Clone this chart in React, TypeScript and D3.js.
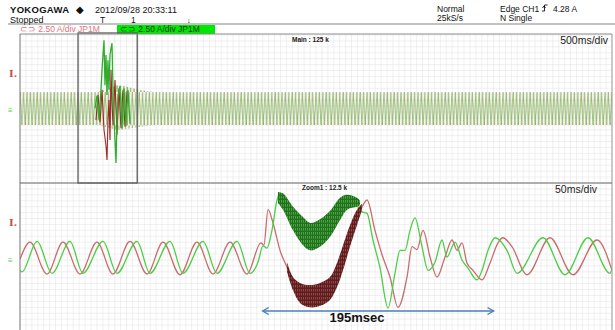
import React from 'react';
import * as d3 from 'd3';

// ---------- data (time in ms, current in A) ----------
const headerLeft = ['YOKOGAWA', '2012/09/28 20:33:11', 'Stopped'];
const headerRight = ['Normal', '25kS/s', 'Edge CH1', '4.28 A', 'N Single'];
const channelLabels = ['⊂⊃ 2.50 A/div JP1M', '⊂⊃ 2.50 A/div JP1M'];
const mainLabel = 'Main : 125 k';
const zoomLabel = 'Zoom1 : 12.5 k';
const mainScaleLabel = '500ms/div';
const zoomScaleLabel = '50ms/div';
const mainDomain = [0, 5000];
const zoomDomain = [0, 500];
const ampDomain = [-10, 10];
const zoomWindow = [490, 990];
const eventSpan = [205, 400];
const eventLabel = '195msec';

// main-window envelope of the dense oscillation [t, lo, hi]
const topEnvelope: [number, number, number][] = [
  [0, -2.2, 2.3], [650, -2.2, 2.3], [830, -2.8, 3.2], [980, -2.5, 2.7], [1150, -2.2, 2.3], [5000, -2.2, 2.3],
];
// burst in main window
const burstGreen: [number, number][] = [
  [633.5, 0.1], [650.3, 1.8], [667.2, -1.5], [684.1, 2.6], [692.6, 5.3], [709.5, 9.3], [717.9, 3.2],
  [726.4, 7.3], [734.8, 1.9], [743.2, 6.6], [751.7, 2.6], [760.1, 7.3], [768.6, 8.2], [777.0, 8.9],
  [785.5, 2.6], [793.9, -1.2], [810.8, -7.3], [819.3, -1.5], [827.7, 1.9], [844.6, 3.1], [861.5, -2.6],
  [878.4, 2.8], [895.3, -2.3], [912.2, 2.6], [929.1, -2.0],
];
const burstRed: [number, number][] = [
  [641.9, -1.5], [658.8, 1.9], [675.7, -1.8], [692.6, 2.6], [709.5, -2.8], [726.4, -5.0], [734.8, -6.9],
  [743.2, -1.5], [751.7, 1.2], [760.1, -4.2], [768.6, 5.3], [777.0, 1.0], [785.5, -2.2], [802.4, 3.9],
  [819.3, -3.5], [836.2, 2.8], [853.1, -2.6], [870.0, 2.6], [886.9, -2.4], [903.8, 2.4],
];

// zoom window traces
const redTrace: [number, number][] = [
  [0, -0.3], [8.4, 2.0], [22.8, -2.3], [36.3, 2.0], [50.7, -2.3], [65.0, 2.0], [78.5, -2.3], [92.9, 2.1],
  [107.3, -2.3], [120.8, 2.0], [135.1, -2.4], [149.5, 2.0], [163.0, -2.3], [177.4, 2.0], [191.7, -2.3],
  [203.5, 1.9], [206.0, 1.6], [209.5, 6.4], [213.7, 4.6], [219.6, 0.9], [225.5, -1.4], [230.6, -3.5],
  [236.5, -4.9], [245.0, -5.3], [253.4, -5.1], [261.8, -4.2], [267.7, -2.4], [272.8, -0.1], [278.7, 2.8],
  [284.6, 5.3], [289.7, 7.0], [293.1, 7.7], [299.8, 3.6], [306.0, 0.2], [312.5, -2.7], [319.3, -6.8],
  [326.9, -2.7], [331.1, 1.4], [335.3, 1.0], [340.4, 3.6], [346.3, 0], [352.2, -2.7], [359.0, 0],
  [364.9, 2.3], [369.1, 0.9], [373.3, 1.9], [377.5, -0.8], [382.6, -1.8], [390.2, -3.1], [397.0, -0.8],
  [403.7, 1.9], [407.9, 2.6], [415.5, 1.4], [428.2, -2.4], [447.6, 2.6], [467.1, -2.4], [487.3, 2.3],
  [500, -1.8],
];
const greenTrace: [number, number][] = [
  [0, -1.8], [1.7, -2.0], [14.4, 2.1], [27.0, -2.2], [42.2, 2.1], [53.2, -2.2], [70.1, 2.1], [81.9, -2.2],
  [98.8, 2.1], [109.8, -2.2], [126.7, 2.1], [137.7, -2.2], [154.6, 2.1], [166.4, -2.2], [183.3, 2.1],
  [194.3, -2.2], [201.0, -0.7], [205.2, 1.5], [208.6, 1.2], [212.8, 3.6], [217.1, 7.7], [219.6, 8.6],
  [225.5, 7.7], [232.3, 5.7], [239.0, 3.6], [245.0, 2.7], [253.4, 3.0], [261.8, 4.3], [270.3, 6.6],
  [276.2, 7.7], [282.9, 7.3], [288.9, 6.1], [293.1, 5.9], [298.1, 2.3], [304.0, -1.4], [310.8, -6.9],
  [316.7, -2.2], [321.0, 0.9], [325.2, 0.9], [329.4, 3.6], [333.6, 5.3], [339.5, 1.4], [344.6, -1.8],
  [350.5, -0.7], [356.4, 2.3], [360.6, 0], [367.4, 2.0], [373.3, -0.4], [378.4, -1.5], [386.0, -3.1],
  [390.2, -1.8], [395.3, 0.9], [401.2, 2.6], [411.3, 0.9], [419.8, -2.2], [441.7, 2.6], [460.3, -2.4],
  [479.7, 2.6], [498.3, -2.2], [500, -1.5],
];
// noisy bands [t, lo, hi]
const greenBand: [number, number, number][] = [
  [217.9, 7.3, 8.8], [222.1, 6.4, 8.6], [230.6, 3.6, 6.8], [239.0, 1.6, 5.4], [245.0, 0.9, 4.6],
  [253.4, 1.4, 5.1], [261.8, 2.7, 6.2], [270.3, 5.0, 8.0], [276.2, 6.4, 8.4], [284.6, 6.8, 8.0], [287.2, 7.0, 7.6],
];
const redBand: [number, number, number][] = [
  [225.5, -2.0, -0.7], [230.6, -4.5, -2.7], [236.5, -6.2, -3.5], [245.0, -6.8, -3.8], [253.4, -6.6, -3.5],
  [261.8, -5.8, -2.7], [267.7, -4.1, -0.8], [272.8, -1.8, 1.6], [278.7, 1.4, 4.3], [284.6, 4.3, 6.4], [288.9, 6.4, 7.2],
];

const FONT = "'Liberation Sans', Arial, sans-serif";

export default function App() {
  const PX0 = 20, PX1 = 612;
  const TOP0 = 34, MID = 183, BOT1 = 331;
  const xTop = d3.scaleLinear().domain(mainDomain).range([PX0, PX1]);
  const xBot = d3.scaleLinear().domain(zoomDomain).range([PX0, PX1]);
  const yTop = d3.scaleLinear().domain(ampDomain).range([MID, 35]);
  const yBot = d3.scaleLinear().domain(ampDomain).range([BOT1, MID]);

  const step = (PX1 - PX0) / 100;
  const gridX = d3.range(0, 101).map((i) => PX0 + i * step);
  const gridYTop = d3.range(0, 26).map((i) => MID - i * step).filter((y) => y >= TOP0);
  const gridYBot = d3.range(0, 26).map((i) => MID + i * step).filter((y) => y <= 330);

  const topArea = d3.area<[number, number, number]>()
    .x((d) => xTop(d[0])).y0((d) => yTop(d[1])).y1((d) => yTop(d[2])).curve(d3.curveMonotoneX);
  const botArea = d3.area<[number, number, number]>()
    .x((d) => xBot(d[0])).y0((d) => yBot(d[1])).y1((d) => yBot(d[2])).curve(d3.curveCatmullRom);
  const topLine = d3.line<[number, number]>().x((d) => xTop(d[0])).y((d) => yTop(d[1]));
  const botLine = d3.line<[number, number]>().x((d) => xBot(d[0])).y((d) => yBot(d[1])).curve(d3.curveMonotoneX);

  const tileTop = yTop(2.3);
  const tileH = yTop(-2.2) - yTop(2.3);

  const ax0 = xBot(eventSpan[0]), ax1 = xBot(eventSpan[1]);
  const ay = 311;

  return (
    <svg width={615} height={330} style={{ position: 'absolute', left: 0, top: 0, background: '#fff' }}
      fontFamily={FONT}>
      <defs>
        <pattern id="oscTop" patternUnits="userSpaceOnUse" x={PX0} y={tileTop} width={3.4} height={tileH}>
          <path d={`M0,0 L1.7,${tileH} L3.4,0`} stroke="#6fcf5c" strokeWidth={0.7} fill="none" />
          <path d={`M-1.2,${tileH} L0.5,0 L2.2,${tileH} L3.9,0`} stroke="#b06048" strokeWidth={0.35} fill="none" opacity={0.75} />
        </pattern>
        <pattern id="gNoise" patternUnits="userSpaceOnUse" width={2} height={4}>
          <rect width={2} height={4} fill="#246f20" />
          <rect x={1.1} y={0} width={0.7} height={2.6} fill="#52bf48" />
        </pattern>
        <pattern id="rNoise" patternUnits="userSpaceOnUse" width={2} height={4}>
          <rect width={2} height={4} fill="#5e1e1e" />
          <rect x={1.1} y={1} width={0.7} height={2.4} fill="#a85a5a" />
        </pattern>
        <clipPath id="clipTop"><rect x={PX0} y={TOP0} width={PX1 - PX0} height={MID - TOP0} /></clipPath>
        <clipPath id="clipBot"><rect x={PX0} y={MID} width={PX1 - PX0} height={BOT1 - MID} /></clipPath>
      </defs>

      {/* header */}
      <text x={10} y={12.5} fontSize={9.5} fontWeight="bold" letterSpacing={0.3} fill="#111">{headerLeft[0]}</text>
      <text x={76} y={12.5} fontSize={9.5} fill="#111">◆</text>
      <text x={95} y={12.5} fontSize={9} fill="#111">{headerLeft[1]}</text>
      <text x={10} y={22.5} fontSize={9} fill="#111">{headerLeft[2]}</text>
      <text x={100} y={22.5} fontSize={8.5} fill="#111">T</text>
      <text x={131} y={22.5} fontSize={8.5} fill="#111">1</text>
      <text x={187} y={23} fontSize={7.5} fill="#111">↓</text>
      <line x1={8} x2={615} y1={24} y2={24} stroke="#666" strokeWidth={0.8} />
      <text x={437} y={12} fontSize={8.5} fill="#111">{headerRight[0]}</text>
      <text x={437} y={21} fontSize={8.5} fill="#111">{headerRight[1]}</text>
      <text x={500} y={12} fontSize={8.5} fill="#111">{headerRight[2]}</text>
      <path d="M542,11 h2.5 v-6 h3 M542.5,8 l1.5,-2 l1.5,2" stroke="#111" strokeWidth={0.9} fill="none" />
      <text x={553} y={12} fontSize={8.5} fill="#111">{headerRight[3]}</text>
      <text x={500} y={21} fontSize={8.5} fill="#111">{headerRight[4]}</text>

      <text x={20} y={32} fontSize={8.5} fill="#e8707c">{channelLabels[0]}</text>
      <rect x={117} y={25} width={98} height={9} fill="#00e800" />
      <text x={120} y={32.3} fontSize={8.5} fill="#0b3a0b">{channelLabels[1]}</text>

      {/* grids */}
      <g stroke="#e0e0e0" strokeWidth={0.5}>
        {gridX.map((x, i) => <line key={'gx' + i} x1={x} x2={x} y1={TOP0} y2={330} />)}
        {gridYTop.map((y, i) => <line key={'gt' + i} x1={PX0} x2={PX1} y1={y} y2={y} />)}
        {gridYBot.map((y, i) => <line key={'gb' + i} x1={PX0} x2={PX1} y1={y} y2={y} />)}
      </g>

      {/* main window */}
      <g clipPath="url(#clipTop)">
        <path d={topArea(topEnvelope) || ''} fill="url(#oscTop)" />
        <path d={topLine(burstRed) || ''} fill="none" stroke="#9c2a26" strokeWidth={1.1} />
        <path d={topLine(burstGreen) || ''} fill="none" stroke="#2fae2c" strokeWidth={1.3} />
      </g>
      <rect x={xTop(zoomWindow[0])} y={33} width={xTop(zoomWindow[1]) - xTop(zoomWindow[0])} height={MID - 33}
        fill="none" stroke="#5a5a5a" strokeWidth={1.3} />
      <text x={292} y={42} fontSize={6.5} fontWeight="bold" fill="#222">{mainLabel}</text>
      <text x={608} y={43.5} fontSize={10.5} textAnchor="end" fill="#222">{mainScaleLabel}</text>

      {/* zoom window */}
      <g clipPath="url(#clipBot)">
        <path d={botLine(redTrace) || ''} fill="none" stroke="#c96c6c" strokeWidth={1.3} />
        <path d={botLine(greenTrace) || ''} fill="none" stroke="#4ccd46" strokeWidth={1.3} />
        <path d={botArea(redBand) || ''} fill="url(#rNoise)" />
        <path d={botArea(greenBand) || ''} fill="url(#gNoise)" />
      </g>
      <text x={302} y={190} fontSize={6.5} fontWeight="bold" fill="#222">{zoomLabel}</text>
      <text x={597} y={193} fontSize={10.5} textAnchor="end" fill="#222">{zoomScaleLabel}</text>

      {/* frames */}
      <line x1={PX0} x2={PX0} y1={TOP0} y2={330} stroke="#7a7a7a" strokeWidth={1} />
      <line x1={PX1} x2={PX1} y1={TOP0} y2={330} stroke="#9a9a9a" strokeWidth={1} />
      <line x1={PX0} x2={PX1} y1={TOP0} y2={TOP0} stroke="#8a8a8a" strokeWidth={1} />
      <line x1={PX0} x2={PX1} y1={MID} y2={MID} stroke="#6a6a6a" strokeWidth={1} />

      {/* level markers */}
      <text x={9} y={77} fontSize={10} fontFamily="'DejaVu Serif', serif" fontWeight="bold" fill="#c4504c">I.</text>
      <text x={9} y={226} fontSize={10} fontFamily="'DejaVu Serif', serif" fontWeight="bold" fill="#c4504c">I.</text>
      <text x={8} y={113} fontSize={8} fill="#5ccc4c">≡</text>
      <text x={8} y={263} fontSize={8} fill="#5ccc4c">≡</text>

      {/* event duration arrow */}
      <g stroke="#4a7ebb" strokeWidth={1.4} fill="none">
        <line x1={ax0} x2={ax1} y1={ay} y2={ay} />
        <path d={`M${ax0 + 6},${ay - 3.5} L${ax0},${ay} L${ax0 + 6},${ay + 3.5}`} />
        <path d={`M${ax1 - 6},${ay - 3.5} L${ax1},${ay} L${ax1 - 6},${ay + 3.5}`} />
      </g>
      <text x={357} y={322} fontSize={13} fontWeight="bold" textAnchor="middle" fill="#111">{eventLabel}</text>
    </svg>
  );
}
